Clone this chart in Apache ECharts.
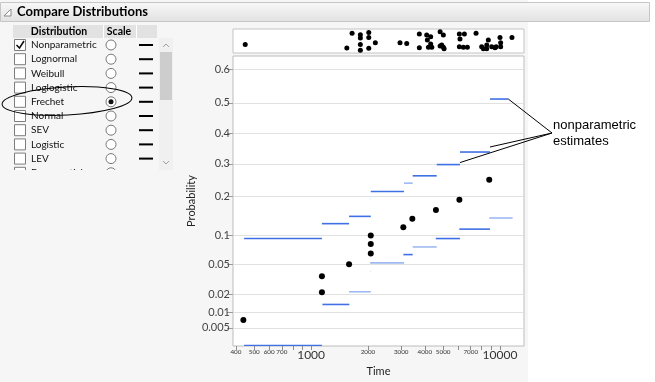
<!DOCTYPE html>
<html><head><meta charset="utf-8">
<script src="https://cdn.jsdelivr.net/npm/echarts@6/dist/echarts.min.js"></script>
<style>
html,body{margin:0;padding:0;background:#fff}
#c{width:655px;height:382px;background:linear-gradient(to right,#f6f6f6 0px,#f6f6f6 528px,#ffffff 528px)}
</style>
</head><body><div id="c"></div>
<script>
// ---------- data ----------
const probTicks = [0.005, 0.01, 0.02, 0.05, 0.1, 0.2, 0.3, 0.4, 0.5, 0.6];
const timeTicks = [400, 500, 600, 700, 800, 900, 1000, 2000, 3000, 4000, 5000, 6000, 7000, 8000, 9000, 10000];
const timeLabels = [400, 500, 600, 700, 1000, 2000, 3000, 4000, 5000, 7000, 10000];

// nonparametric estimate segments
const segStart = [442, 1141, 1589, 2070, 3104, 3450, 4625, 6140, 8850, 8770, 6090, 4570, 3450, 3080, 2055, 1589, 1148, 442, 2066, 2066];
const segEnd   = [1141, 1589, 2070, 3104, 3450, 4625, 6140, 8850, 11070, 11660, 8850, 6140, 4625, 3450, 3104, 2070, 1594, 1141, 2074, 2074];
const segProb  = [0.094, 0.1266, 0.1444, 0.213, 0.2385, 0.2615, 0.2977, 0.339, 0.5117, 0.1403, 0.114, 0.094, 0.078, 0.065, 0.0525, 0.0218, 0.0137, 0.002, 0.192, 0.0414];
const segLight = [0, 0, 0, 0, 1, 0, 0, 0, 0, 1, 0, 0, 1, 0, 1, 1, 0, 0, 1, 1];

// data points
const dotTime = [438, 1141, 1141, 1589, 2070, 2070, 2070, 3078, 3435, 4580, 6096, 8770];
const dotProb = [0.0072, 0.036, 0.0215, 0.0506, 0.1, 0.0834, 0.0667, 0.118, 0.1386, 0.1606, 0.189, 0.249];

// rug (jittered) points above the plot
const rugTime = [448, 1546, 1648, 1823, 1823, 1823, 1823, 2020, 2020, 2020, 2188, 2956, 3208, 3741, 3741,
  4093, 4295, 4125, 4295, 4180, 4355, 4820, 5015, 4820, 5015, 4915, 5060,
  6095, 6480, 6140, 6095, 6400, 6720, 7470, 8000, 8165, 8510, 8675, 9040, 9410, 8500, 10000, 10080, 10080, 9540, 11570];
const rugJitter = [0.35, 0.21, 0.82, 0.76, 0.62, 0.35, 0.11, 0.85, 0.65, 0.2, 0.43, 0.43, 0.4, 0.79, 0.22,
  0.75, 0.68, 0.54, 0.38, 0.24, 0.24, 0.89, 0.75, 0.29, 0.24, 0.33, 0.18,
  0.79, 0.79, 0.58, 0.26, 0.24, 0.24, 0.82, 0.26, 0.18, 0.33, 0.54, 0.26, 0.22, 0.18, 0.65, 0.43, 0.26, 0.26, 0.65];

const distributions = ['Nonparametric', 'Lognormal', 'Weibull', 'Loglogistic', 'Frechet', 'Normal', 'SEV', 'Logistic', 'LEV', 'Exponential'];
const checked = [true, false, false, false, false, false, false, false, false, false];
const scaleSelected = 4;
const annotationText = ['nonparametric', 'estimates'];

// ---------- scales ----------
const T = p => -Math.log(-Math.log(p));           // Frechet probability scale
const Tinv = v => Math.exp(-Math.exp(-v));
const L = t => Math.log10(t);
const XMIN = L(386), XMAX = L(13400);
const YMIN = T(0.00194), YMAX = T(0.635);
const DARK = '#3f70e6', LIGHT = '#9fb9f2';
const FONT = 'Lato';

const segData = segStart.map((s, i) => [L(s), L(segEnd[i]), T(segProb[i]), segLight[i]]);
const dotData = dotTime.map((t, i) => [L(t), T(dotProb[i])]);
const rugData = rugTime.map((t, i) => [L(t), rugJitter[i]]);

const chart = echarts.init(document.getElementById('c'), null, {renderer: 'canvas'});

const option = {
  animation: false,
  backgroundColor: 'transparent',
  grid: [
    {left: 233, top: 56, width: 291, height: 291, show: true, backgroundColor: '#fff', borderColor: '#bcbcbc', borderWidth: 1},
    {left: 233, top: 29, width: 291, height: 24, show: true, backgroundColor: '#fff', borderColor: '#c4c4c4', borderWidth: 1}
  ],
  xAxis: [
    {
      type: 'value', gridIndex: 0, min: XMIN, max: XMAX,
      axisLine: {show: false, onZero: false},
      axisTick: {show: true, customValues: timeTicks.map(L), length: 4, lineStyle: {color: '#8c8c8c'}},
      axisLabel: {
        customValues: timeLabels.map(L), margin: 3,
        formatter: v => {
          const t = timeLabels.reduce((a, b) => Math.abs(L(b) - v) < Math.abs(L(a) - v) ? b : a);
          return (t === 1000 || t === 10000) ? '{b|' + t + '}' : '{s|' + t + '}';
        },
        rich: {b: {fontSize: 12, color: '#333', fontFamily: FONT}, s: {fontSize: 6.3, color: '#333', fontFamily: FONT}}
      },
      splitLine: {show: false},
      name: 'Time', nameLocation: 'middle', nameGap: 20,
      nameTextStyle: {fontSize: 11, color: '#222', fontFamily: FONT}
    },
    {type: 'value', gridIndex: 1, min: XMIN, max: XMAX, show: false}
  ],
  yAxis: [
    {
      type: 'value', gridIndex: 0, min: YMIN, max: YMAX,
      axisLine: {show: false, onZero: false},
      axisTick: {show: true, customValues: probTicks.map(T), length: 6, lineStyle: {color: '#9a9a9a'}},
      axisLabel: {
        customValues: probTicks.map(T), margin: 3, fontSize: 11, color: '#444', fontFamily: FONT,
        formatter: v => {
          const p = Tinv(v);
          const t = probTicks.reduce((a, b) => Math.abs(b - p) < Math.abs(a - p) ? b : a);
          return String(t);
        }
      },
      splitLine: {show: true, lineStyle: {color: '#e1e1e1', width: 1}},
      name: 'Probability', nameLocation: 'middle', nameGap: 36, nameRotate: 90,
      nameTextStyle: {fontSize: 11, color: '#222', fontFamily: FONT}
    },
    {type: 'value', gridIndex: 1, min: 0, max: 1, show: false}
  ],
  series: [
    {
      type: 'custom', xAxisIndex: 0, yAxisIndex: 0, data: segData,
      encode: {x: [0, 1], y: 2}, clip: true,
      renderItem: (params, api) => {
        const a = api.coord([api.value(0), api.value(2)]);
        const b = api.coord([api.value(1), api.value(2)]);
        return {type: 'line', shape: {x1: a[0], y1: a[1], x2: b[0], y2: b[1]},
          style: {stroke: api.value(3) ? LIGHT : DARK, lineWidth: 1.6}};
      }
    },
    {type: 'scatter', xAxisIndex: 0, yAxisIndex: 0, data: dotData, symbolSize: 6, itemStyle: {color: '#000', opacity: 1}, z: 5},
    {type: 'scatter', xAxisIndex: 1, yAxisIndex: 1, data: rugData, symbolSize: 5, itemStyle: {color: '#000', opacity: 1}}
  ]
};
chart.setOption(option);

// ---------- panel graphics ----------
const g = [];
// title bar
g.push({type: 'rect', shape: {x: 0.5, y: 2.5, width: 649, height: 19},
  style: {fill: new echarts.graphic.LinearGradient(0, 0, 0, 1, [{offset: 0, color: '#f8f8f8'}, {offset: 1, color: '#e1e1e1'}]), stroke: '#c6c6c6'}});
g.push({type: 'polygon', shape: {points: [[4, 16], [11, 16], [11, 9]]}, style: {fill: '#fff', stroke: '#8a8a8a'}});
g.push({type: 'text', x: 17, y: 12, style: {text: 'Compare Distributions', font: 'bold 13px ' + FONT, fill: '#000', verticalAlign: 'middle'}});
// list header
g.push({type: 'rect', shape: {x: 13, y: 25, width: 144, height: 13}, style: {fill: '#e2e2e2'}});
g.push({type: 'line', shape: {x1: 103.5, y1: 25, x2: 103.5, y2: 38}, style: {stroke: '#fff'}});
g.push({type: 'line', shape: {x1: 136.5, y1: 25, x2: 136.5, y2: 38}, style: {stroke: '#fff'}});
g.push({type: 'text', x: 59, y: 31.5, style: {text: 'Distribution', font: 'bold 10.5px ' + FONT, fill: '#000', align: 'center', verticalAlign: 'middle'}});
g.push({type: 'text', x: 119, y: 31.5, style: {text: 'Scale', font: 'bold 10.5px ' + FONT, fill: '#000', align: 'center', verticalAlign: 'middle'}});
distributions.forEach((d, i) => {
  const cy = 45 + i * 14.2;
  g.push({type: 'rect', shape: {x: 14.5, y: cy - 5.5, width: 11, height: 11}, style: {fill: '#fff', stroke: '#7d7d7d'}});
  if (checked[i]) g.push({type: 'polyline', shape: {points: [[16.5, cy], [19.5, cy + 3], [24, cy - 4]]}, style: {stroke: '#111', lineWidth: 1.6, fill: null}});
  g.push({type: 'text', x: 31, y: cy, style: {text: d, font: '10px ' + FONT, fill: '#111', verticalAlign: 'middle'}});
  g.push({type: 'circle', shape: {cx: 111, cy: cy, r: 5}, style: {fill: '#fff', stroke: '#777'}});
  if (i === scaleSelected) g.push({type: 'circle', shape: {cx: 111, cy: cy, r: 2.5}, style: {fill: '#111'}});
  g.push({type: 'line', shape: {x1: 139, y1: cy, x2: 153, y2: cy}, style: {stroke: '#000', lineWidth: 2}});
});
// clip bottom of list
g.push({type: 'rect', shape: {x: 0, y: 170, width: 180, height: 40}, style: {fill: '#f6f6f6'}});
// scrollbar
g.push({type: 'rect', shape: {x: 159, y: 38, width: 14, height: 132}, style: {fill: '#f0f0f0'}});
g.push({type: 'rect', shape: {x: 160, y: 52, width: 12, height: 48}, style: {fill: '#cdcdcd'}});
g.push({type: 'polyline', shape: {points: [[163, 47], [166, 44], [169, 47]]}, style: {stroke: '#a0a0a0', fill: null}});
g.push({type: 'polyline', shape: {points: [[163, 161], [166, 164], [169, 161]]}, style: {stroke: '#a0a0a0', fill: null}});
// hand-drawn ellipse around Frechet
g.push({type: 'ellipse', shape: {cx: 67, cy: 101, rx: 65, ry: 14}, rotation: 0.05, originX: 67, originY: 101,
  style: {fill: null, stroke: '#000', lineWidth: 1}});
// annotation
const apex = [552, 133];
const p1 = chart.convertToPixel({xAxisIndex: 0, yAxisIndex: 0}, [L(segEnd[8]), T(segProb[8])]);
const p2 = chart.convertToPixel({xAxisIndex: 0, yAxisIndex: 0}, [L(segEnd[7]), T(segProb[7])]);
const p3 = chart.convertToPixel({xAxisIndex: 0, yAxisIndex: 0}, [L(segEnd[6]), T(segProb[6])]);
g.push({type: 'line', shape: {x1: apex[0], y1: apex[1], x2: p1[0], y2: p1[1]}, style: {stroke: '#000', lineWidth: 1}});
g.push({type: 'line', shape: {x1: apex[0], y1: apex[1], x2: p2[0], y2: p2[1] - 5}, style: {stroke: '#000', lineWidth: 1}});
g.push({type: 'line', shape: {x1: apex[0], y1: apex[1], x2: p3[0], y2: p3[1] - 2}, style: {stroke: '#000', lineWidth: 1}});
g.push({type: 'text', x: 553, y: 125, style: {text: annotationText[0], font: '13px "Liberation Sans"', fill: '#000', verticalAlign: 'middle'}});
g.push({type: 'text', x: 553, y: 141, style: {text: annotationText[1], font: '13px "Liberation Sans"', fill: '#000', verticalAlign: 'middle'}});

chart.setOption({graphic: g.map(e => Object.assign({z: 100}, e))});
</script>
</body></html>
